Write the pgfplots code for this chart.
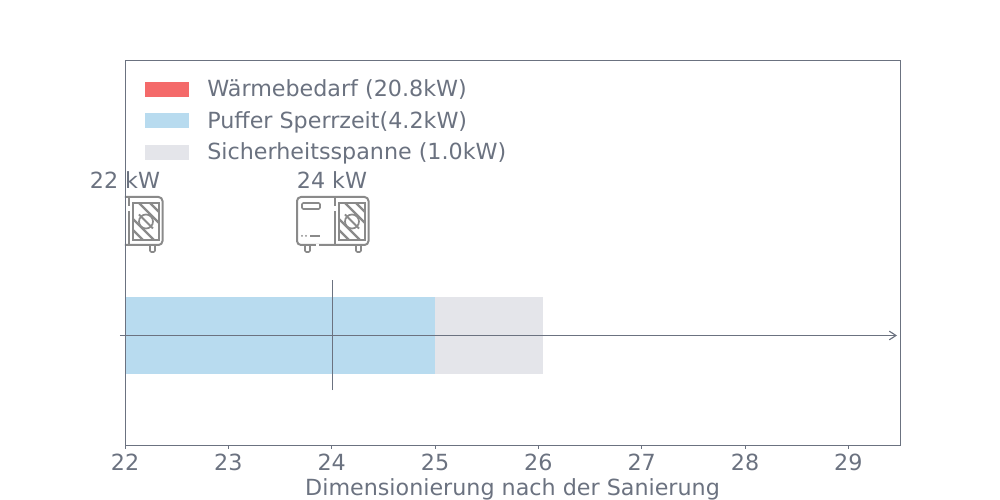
\documentclass[border=0pt]{standalone}
\usepackage{fontspec}
\setmainfont{DejaVu Sans}
\usepackage{pgfplots}
\pgfplotsset{compat=1.18}
\usetikzlibrary{arrows.meta}
\definecolor{txt}{HTML}{6B7280}
\definecolor{iconc}{HTML}{8A8A8A}
\definecolor{rotb}{HTML}{F46A6A}
\definecolor{blaub}{HTML}{B8DBEF}
\definecolor{graub}{HTML}{E4E5EA}

% outdoor unit icon, drawn in pixels around its centre
\newcommand{\unit}{%
  \draw[iconc, line width=1.5pt, rounded corners=3pt] (-35,24) rectangle (36.5,-24);
  \draw[white, line width=2pt] (3,14) -- (3,10);
  \draw[white, line width=2pt] (-16,-24) -- (-13,-24);
  \draw[iconc, line width=1.5pt] (3,24) -- (3,15) (3,10) -- (3,-24);
  \draw[iconc, line width=1.2pt, rounded corners=1pt] (-30,18) rectangle (-12,12);
  \draw[iconc, line width=1.2pt] (7,18) rectangle (33,-19);
  \begin{scope}
    \clip (7,18) rectangle (33,-19);
    \foreach \d in {-32,-22,-11,11,22,32}
      \draw[iconc, line width=1.7pt] (20+\d-25,25) -- (20+\d+25,-25);
    \draw[iconc, line width=1.4pt] (20-7,6.5) -- (20+7,-7.5);
  \end{scope}
  \draw[iconc, line width=1.3pt] (20,-0.5) circle (7);
  \draw[iconc, line width=1.2pt] (-22,-15) -- (-12,-15);
  \fill[iconc] (-30,-15) circle (1) (-26,-15) circle (1);
  \draw[iconc, line width=1.2pt, rounded corners=1pt] (-27,-24) -- (-27,-31) -- (-22,-31) -- (-22,-24);
  \draw[iconc, line width=1.2pt, rounded corners=1pt] (24,-24) -- (24,-31) -- (29,-31) -- (29,-24);
}

\begin{document}
\begin{tikzpicture}[x=0.75pt, y=0.75pt]
\path[use as bounding box] (-125,-55) rectangle (875,445);
\begin{axis}[
  at={(0,0)},
  anchor=south west,
  scale only axis,
  width=581.25pt,
  height=288.75pt,
  xmin=22, xmax=29.5,
  ymin=0, ymax=385,
  xtick={22,23,24,25,26,27,28,29},
  ytick=\empty,
  tick align=outside,
  xtick pos=bottom,
  major tick length=2.8pt,
  axis line style={txt, line width=0.6pt},
  tick style={txt, line width=0.6pt},
  ticklabel style={font=\fontsize{16.67}{17}\selectfont, text=txt, yshift=-0.7pt},
  /pgf/number format/assume math mode=true,
  xlabel={Dimensionierung nach der Sanierung},
  xlabel style={font=\fontsize{16.67}{17}\selectfont, text=txt, at={(axis description cs:0.5,0)}, anchor=base, yshift=-38pt},
  legend style={at={(axis cs:22.19,368)}, anchor=north west, draw=none, fill=none,
    font=\fontsize{16.67}{17}\selectfont, text=txt, inner sep=0pt, outer sep=0pt,
    row sep=5.5pt, legend cell align=left},
  legend image code/.code={\fill[#1] (0pt,-5.6pt) rectangle (33pt,5.6pt); \path (45pt,0pt);},
]
\addplot[rotb, fill=rotb, draw=none] coordinates {(0,71)(20.8,71)(20.8,148)(0,148)} --cycle;
\addlegendentry{Wärmebedarf (20.8kW)}
\addplot[blaub, fill=blaub, draw=none] coordinates {(20.8,71)(25,71)(25,148)(20.8,148)} --cycle;
\addlegendentry{Puffer Sperrzeit(4.2kW)}
\addplot[graub, fill=graub, draw=none] coordinates {(25,71)(26.045,71)(26.045,148)(25,148)} --cycle;
\addlegendentry{Sicherheitsspanne (1.0kW)}
\addplot[forget plot, txt, line width=0.85pt] coordinates {(24.005,55)(24.005,165)};
\end{axis}
% axis arrow
\draw[txt, line width=0.85pt, -{Straight Barb[length=5pt,width=6.5pt]}] (-5,109.5) -- (772,109.5);
% labels
\node[font=\fontsize{16.67}{17}\selectfont, text=txt, anchor=base] at (0,256.5) {22 kW};
\node[font=\fontsize{16.67}{17}\selectfont, text=txt, anchor=base] at (207,256.5) {24 kW};
% icons, the left one cut by the axis
\begin{scope}
  \clip (0,150) rectangle (60,260);
  \begin{scope}[shift={(1,224)}]\unit\end{scope}
\end{scope}
\begin{scope}[shift={(207,224)}]\unit\end{scope}
\draw[txt, line width=0.6pt] (0,0) -- (0,385);
\end{tikzpicture}
\end{document}
